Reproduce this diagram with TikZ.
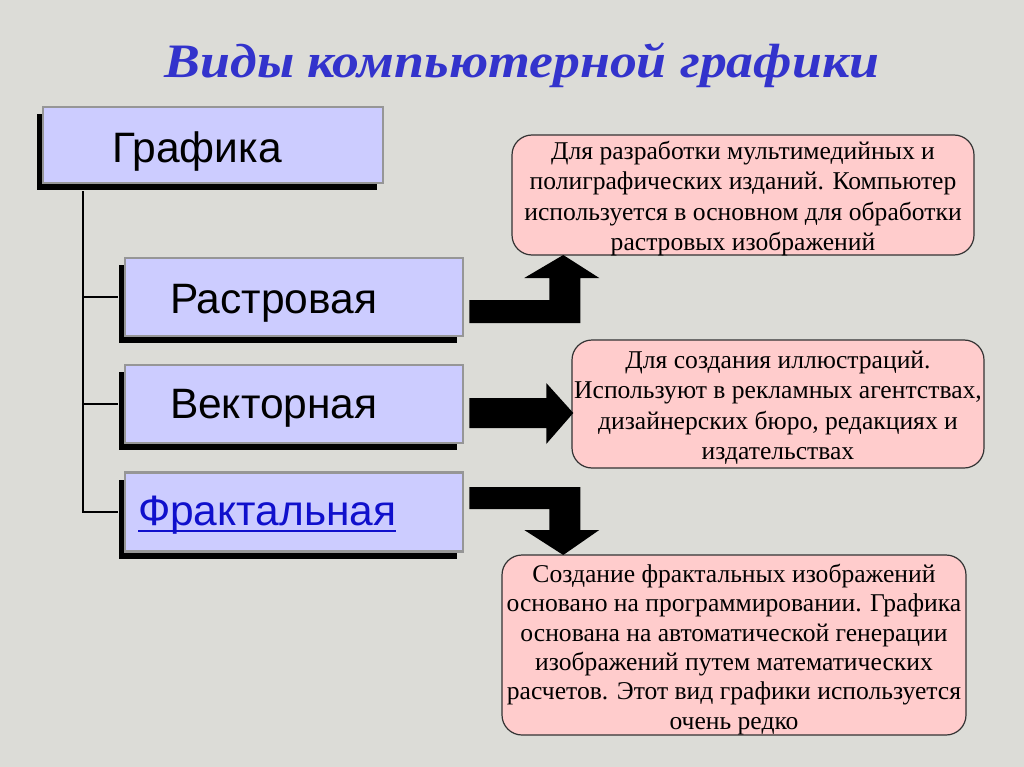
\documentclass[tikz,border=0pt]{standalone}
\usepackage{fontspec}
\setmainfont{Liberation Serif}
\newfontfamily\arialf{Liberation Sans}
\usetikzlibrary{shadows,calc}
\definecolor{bgc}{RGB}{220,220,215}
\definecolor{lav}{RGB}{204,204,255}
\definecolor{boxgray}{RGB}{150,150,150}
\definecolor{pinkc}{RGB}{255,204,204}
\definecolor{titleblue}{RGB}{51,51,204}
\definecolor{linkblue}{RGB}{16,16,204}
\newcommand\myul[1]{\setbox0\hbox{#1}\rlap{\rule[-7pt]{\wd0}{2.5pt}}\box0}
\begin{document}
\begin{tikzpicture}[x=1pt,y=-1pt,
  catbox/.style={draw=boxgray, line width=2.5pt, fill=lav, inner xsep=0pt, inner ysep=0pt,
    align=left, font=\arialf\fontsize{42.5}{48}\selectfont, text depth=8pt,
    drop shadow={shadow xshift=-6pt, shadow yshift=-7pt, fill=black, opacity=1}},
  infobox/.style={draw=black!80, line width=1.2pt, fill=pinkc, rounded corners=20pt, inner sep=0pt},
  infotext/.style={align=center, inner sep=0pt, yshift=-3.5pt, font=\fontsize{25.6}{30.5}\selectfont},
  tree/.style={line width=2.5pt, black},
  blockarrow/.style={fill=black, draw=none}]
\fill[bgc] (0,0) rectangle (1024,767);
\useasboundingbox (0,0) rectangle (1024,767);
% title
\node[text=titleblue, anchor=base, inner sep=0pt, font=\bfseries\itshape\fontsize{48}{52}\selectfont] (title) at (522,78) {\scalebox{1.12}[1]{Виды компьютерной графики}};
% category boxes
\node[catbox, minimum width=340pt, minimum height=76pt, text width=340pt, text height=44pt] (g) at (213,145) {\hspace*{69pt}Графика};
\node[catbox, minimum width=338pt, minimum height=78pt, text width=338pt, text height=40pt] (r) at (294,297) {\hspace*{45pt}Растровая};
\node[catbox, minimum width=338pt, minimum height=78pt, text width=338pt, text height=36pt] (v) at (294,404) {\hspace*{45pt}Векторная};
\node[catbox, minimum width=338pt, minimum height=79pt, text width=338pt, text height=34pt] (f) at (294,512) {\hspace*{13pt}\textcolor{linkblue}{\myul{Фрактальная}}};
% tree
\coordinate (top) at ($(g.south west)+(41,7)$);
\draw[tree] (top) -- (top |- f.west) -- ([xshift=-6pt]f.west);
\draw[tree] (top |- r.west) -- ([xshift=-6pt]r.west);
\draw[tree] (top |- v.west) -- ([xshift=-6pt]v.west);
% info boxes
\node[infobox, minimum width=462pt, minimum height=120pt] (i1) at (743,195) {};
\node[infotext] (t1) at (i1.center) {Для разработки мультимедийных и\\полиграфических изданий. Компьютер\\используется в основном для обработки\\растровых изображений};
\node[infobox, minimum width=412pt, minimum height=128pt] (i2) at (778,404) {};
\node[infotext] (t2) at (i2.center) {Для создания иллюстраций.\\Используют в рекламных агентствах,\\дизайнерских бюро, редакциях и\\издательствах};
\node[infobox, minimum width=464pt, minimum height=180pt] (i3) at (734,645) {};
\node[infotext, yshift=-1pt, font=\fontsize{25.6}{29.3}\selectfont] (t3) at (i3.center) {Создание фрактальных изображений\\основано на программировании. Графика\\основана на автоматической генерации\\изображений путем математических\\расчетов. Этот вид графики используется\\очень редко};
% block arrows
\begin{scope}[shift={(r.east)}]
\fill[blockarrow] (5,3) -- (85,3) -- (85,-19) -- (60,-19) -- (99,-42) -- (135,-19) -- (116,-19) -- (116,26) -- (5,26) -- cycle;
\end{scope}
\begin{scope}[shift={(v.east)}]
\fill[blockarrow] (5,-6) -- (82,-6) -- (82,-21) -- (109,9) -- (82,40) -- (82,24) -- (5,24) -- cycle;
\end{scope}
\begin{scope}[shift={(f.east)}]
\fill[blockarrow] (5,-25) -- (116,-25) -- (116,18) -- (135,18) -- (99,43) -- (60,18) -- (85,18) -- (85,-3) -- (5,-3) -- cycle;
\end{scope}
\end{tikzpicture}
\end{document}
